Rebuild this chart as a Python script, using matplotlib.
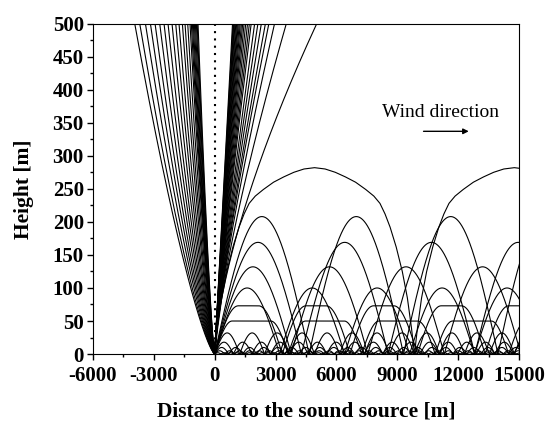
import numpy as np
import matplotlib.pyplot as plt

plt.rcParams['font.family'] = ['Liberation Serif', 'DejaVu Serif']
plt.rcParams['font.weight'] = 'bold'
plt.rcParams['axes.unicode_minus'] = False

# rays that leave through the top of the plot: x [m] where they cross 500 m
left_tops = [-3936, -3690, -3410, -3164, -2936, -2706, -2494, -2297, -2100,
             -1918, -1756, -1590, -1460, -1328, -1215, -1150, -1097, -1050,
             -1000, -950, -900, -860, -820]
right_tops = [880, 910, 940, 970, 1000, 1040, 1080, 1120, 1160, 1210, 1260,
              1320, 1380, 1450, 1530, 1620, 1710, 1800, 1970, 2130, 2300,
              2500, 2670, 2950, 3530, 5030]

# rays bent back to the ground: apex height [m], bounce distance [m], flat top [m]
arch_heights = [208, 169, 132, 100, 73, 50, 32, 18, 10, 5, 2]
arch_spans = [4650, 4270, 3770, 3200, 3330, 3620, 1230, 920, 690, 490, 310]
arch_flats = [0, 0, 0, 0, 1000, 1900, 0, 0, 0, 0, 0]

# highest returning ray, first half of its arch
top_ray_x = [0, 150, 350, 600, 900, 1200, 1450, 1700, 2000, 2400, 2900,
             3400, 3900, 4400, 4920]
top_ray_h = [0, 40, 85, 125, 162, 192, 212, 228, 239, 249, 260, 268, 275,
             280, 282]

X_MAX = 15000

fig = plt.figure(figsize=(5.46, 4.21), dpi=100)
ax = fig.add_axes([0.170, 0.159, 0.781, 0.785])

lw = 0.8
h = np.linspace(0, 500, 200)

for xt in left_tops:
    ax.plot(xt * (h / 500) ** 0.75, h, 'k-', lw=lw)

for xt in right_tops:
    q = 1.0 + 0.5 * (xt - right_tops[0]) / (right_tops[-1] - right_tops[0])
    ax.plot(xt * (h / 500) ** q, h, 'k-', lw=lw)

for H, L, flat in zip(arch_heights, arch_spans, arch_flats):
    u = np.linspace(0, L, 300)
    if flat == 0:
        z = H * np.sin(np.pi * u / L)
    else:
        r = (L - flat) / 2
        z = H * np.sin(np.pi / 2 * np.clip(np.minimum(u, L - u) / r, 0, 1))
    k = 0
    while k * L < X_MAX:
        ax.plot(u + k * L, z, 'k-', lw=lw)
        k += 1

tx = np.array(top_ray_x)
th = np.array(top_ray_h)
span = 2 * tx[-1]
arch_x = np.concatenate([tx, span - tx[::-1]])
arch_h = np.concatenate([th, th[::-1]])
for k in range(2):
    ax.plot(arch_x + k * span, arch_h, 'k-', lw=lw)

ax.plot([0, 0], [0, 500], color='k', linestyle=(0, (1, 2.5)), lw=1.5)

ax.annotate('', xy=(12650, 337), xytext=(10150, 337),
            arrowprops=dict(arrowstyle='-|>', color='k', lw=1.0,
                            mutation_scale=8))
ax.text(8250, 366, 'Wind direction', fontsize=14, fontweight='normal',
        ha='left', va='center')

ax.set_xlim(-6000, X_MAX)
ax.set_ylim(0, 500)
ax.set_xticks(np.arange(-6000, 15001, 3000))
ax.set_xticks(np.arange(-6000, 15001, 1500), minor=True)
ax.set_yticks(np.arange(0, 501, 50))
ax.set_yticks(np.arange(0, 501, 25), minor=True)
ax.tick_params(direction='out', labelsize=15, width=1, length=4.5, pad=2)
ax.tick_params(axis='x', pad=4)
ax.tick_params(which='minor', direction='out', width=1, length=2.5)
for lab in ax.get_xticklabels() + ax.get_yticklabels():
    lab.set_fontweight('bold')

ax.set_xlabel('Distance to the sound source [m]', fontsize=15.5,
              fontweight='bold', labelpad=11)
ax.set_ylabel('Height [m]', fontsize=15.5, fontweight='bold', labelpad=13)

fig.savefig('out.png', dpi=100)
